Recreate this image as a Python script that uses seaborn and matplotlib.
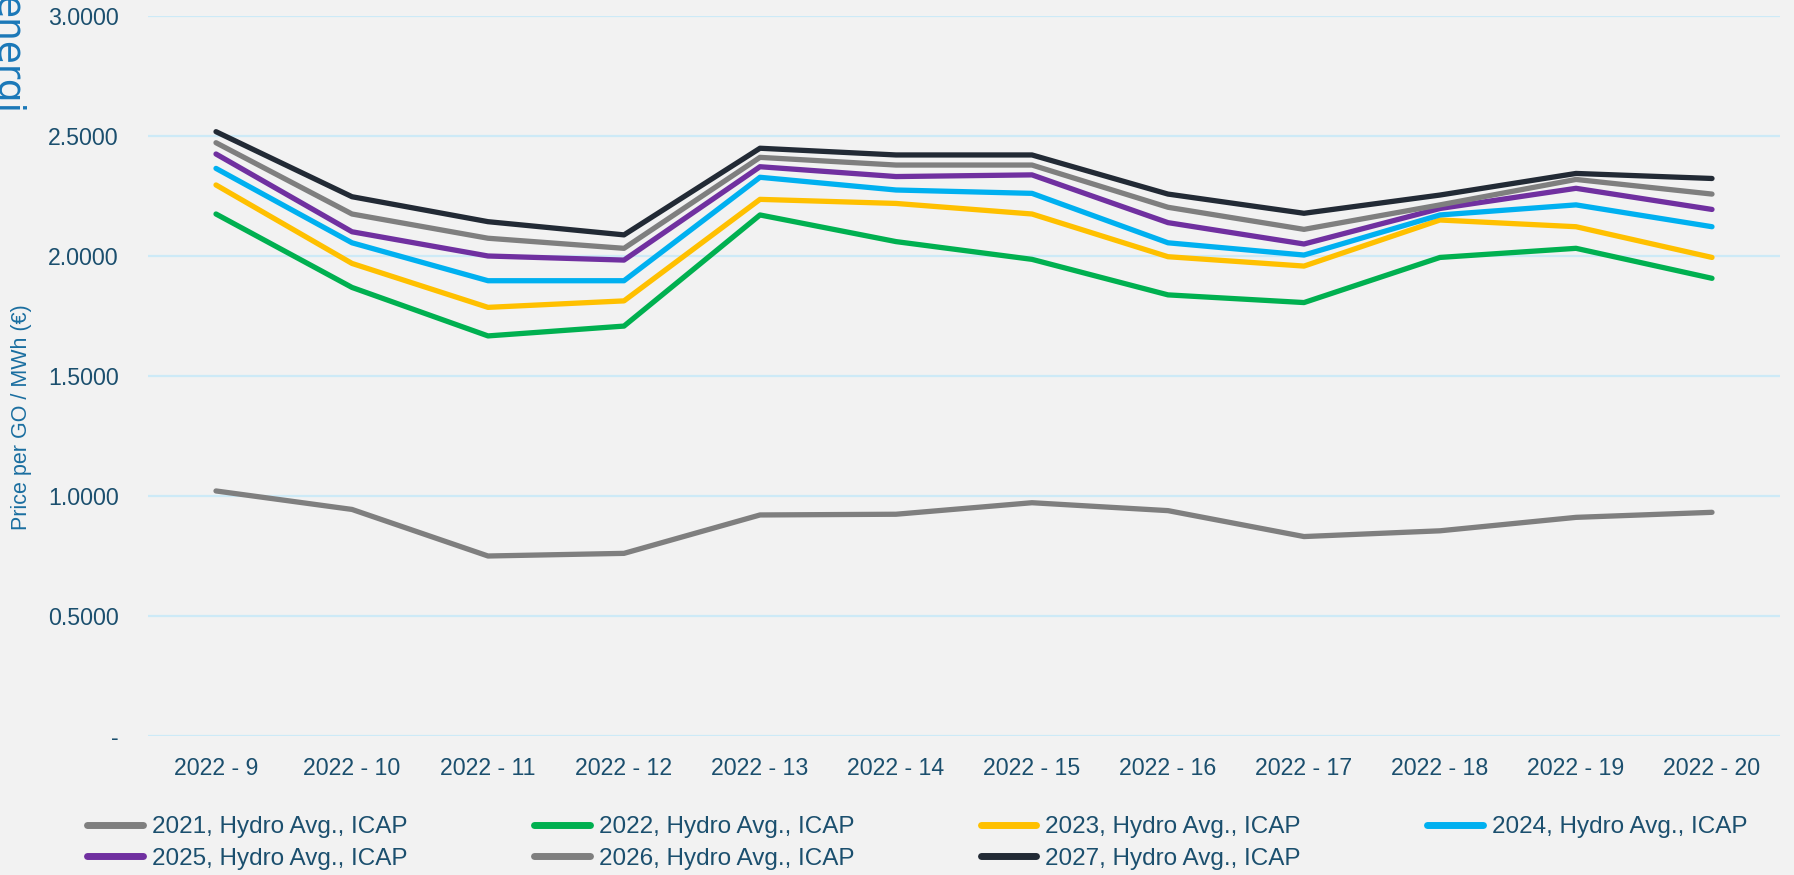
import pandas as pd
import seaborn as sns
import matplotlib.pyplot as plt

# Weekly GO prices
weeks = ["2022 - 9", "2022 - 10", "2022 - 11", "2022 - 12", "2022 - 13", "2022 - 14",
         "2022 - 15", "2022 - 16", "2022 - 17", "2022 - 18", "2022 - 19", "2022 - 20"]

p2021 = [1.021, 0.944, 0.750, 0.761, 0.921, 0.924, 0.972, 0.939, 0.831, 0.855, 0.911, 0.932]
p2022 = [2.175, 1.869, 1.667, 1.708, 2.171, 2.060, 1.986, 1.838, 1.806, 1.994, 2.032, 1.907]
p2023 = [2.296, 1.969, 1.786, 1.813, 2.236, 2.219, 2.175, 1.997, 1.958, 2.150, 2.122, 1.994]
p2024 = [2.365, 2.055, 1.897, 1.897, 2.328, 2.275, 2.261, 2.055, 2.004, 2.171, 2.213, 2.122]
p2025 = [2.425, 2.101, 2.000, 1.983, 2.372, 2.331, 2.338, 2.139, 2.050, 2.198, 2.282, 2.194]
p2026 = [2.472, 2.175, 2.074, 2.032, 2.411, 2.379, 2.379, 2.203, 2.111, 2.213, 2.319, 2.258]
p2027 = [2.518, 2.247, 2.143, 2.088, 2.449, 2.421, 2.421, 2.258, 2.178, 2.254, 2.344, 2.323]

series = {
    "2021, Hydro Avg., ICAP": p2021,
    "2022, Hydro Avg., ICAP": p2022,
    "2023, Hydro Avg., ICAP": p2023,
    "2024, Hydro Avg., ICAP": p2024,
    "2025, Hydro Avg., ICAP": p2025,
    "2026, Hydro Avg., ICAP": p2026,
    "2027, Hydro Avg., ICAP": p2027,
}
colors = ["#7f7f7f", "#00b050", "#ffc000", "#00b0f0", "#7030a0", "#7f7f7f", "#222a35"]

yticks = [0, 0.5, 1.0, 1.5, 2.0, 2.5, 3.0]
ytick_labels = ["-", "0.5000", "1.0000", "1.5000", "2.0000", "2.5000", "3.0000"]

rows = []
for name, vals in series.items():
    for w, v in zip(weeks, vals):
        rows.append({"week": w, "price": v, "series": name})
df = pd.DataFrame(rows)

sns.set_theme(style="white")
plt.rcParams["font.family"] = ["Liberation Sans", "DejaVu Sans"]

bg = "#f2f2f2"
txt = "#1b4f6e"

fig = plt.figure(figsize=(17.94, 8.75), dpi=100, facecolor=bg)
ax = fig.add_axes([148 / 1794, 1 - 736 / 875, (1780 - 148) / 1794, (736 - 16) / 875])
ax.set_facecolor(bg)

sns.lineplot(data=df, x="week", y="price", hue="series", palette=colors,
             linewidth=3.8, sort=False, ax=ax, legend=True,
             solid_capstyle="round", solid_joinstyle="round")

ax.set_xlim(-0.5, len(weeks) - 0.5)
ax.set_ylim(0, 3.0)
ax.set_yticks(yticks)
ax.set_yticklabels(ytick_labels)
ax.grid(axis="y", color="#cdeaf7", linewidth=1.6)
ax.set_axisbelow(True)
for s in ax.spines.values():
    s.set_visible(False)
ax.tick_params(axis="both", length=0, labelsize=16.7, labelcolor=txt)
ax.tick_params(axis="y", pad=21)
ax.tick_params(axis="x", pad=15)
ax.set_xlabel("")
ax.set_ylabel("")

fig.text(22 / 1794, 1 - 417 / 875, "Price per GO / MWh (€)", rotation=90,
         ha="center", va="center", fontsize=15.5, color="#1a6ea0")

fig.text(-4 / 1794, 1 + 4 / 875, "energi", rotation=-90, rotation_mode="anchor",
         ha="left", va="baseline", fontsize=27, color="#1a78b8",
         family="DejaVu Sans")

# legend: reorder so that matplotlib's column-first fill gives row-wise layout
handles, labels = ax.get_legend_handles_labels()
ax.get_legend().remove()
order = [0, 4, 1, 5, 2, 6, 3]
leg = fig.legend([handles[i] for i in order], [labels[i] for i in order],
                 loc="center left", bbox_to_anchor=(87 / 1794, 1 - 843 / 875),
                 ncol=4, frameon=False, fontsize=17.5, handlelength=2.3,
                 handletextpad=0.37, columnspacing=5.2, labelspacing=0.4,
                 borderpad=0, borderaxespad=0)
for t in leg.get_texts():
    t.set_color(txt)
for h in leg.get_lines():
    h.set_linewidth(5)
    h.set_solid_capstyle("round")

fig.savefig("out.png", dpi=100, facecolor=bg)
